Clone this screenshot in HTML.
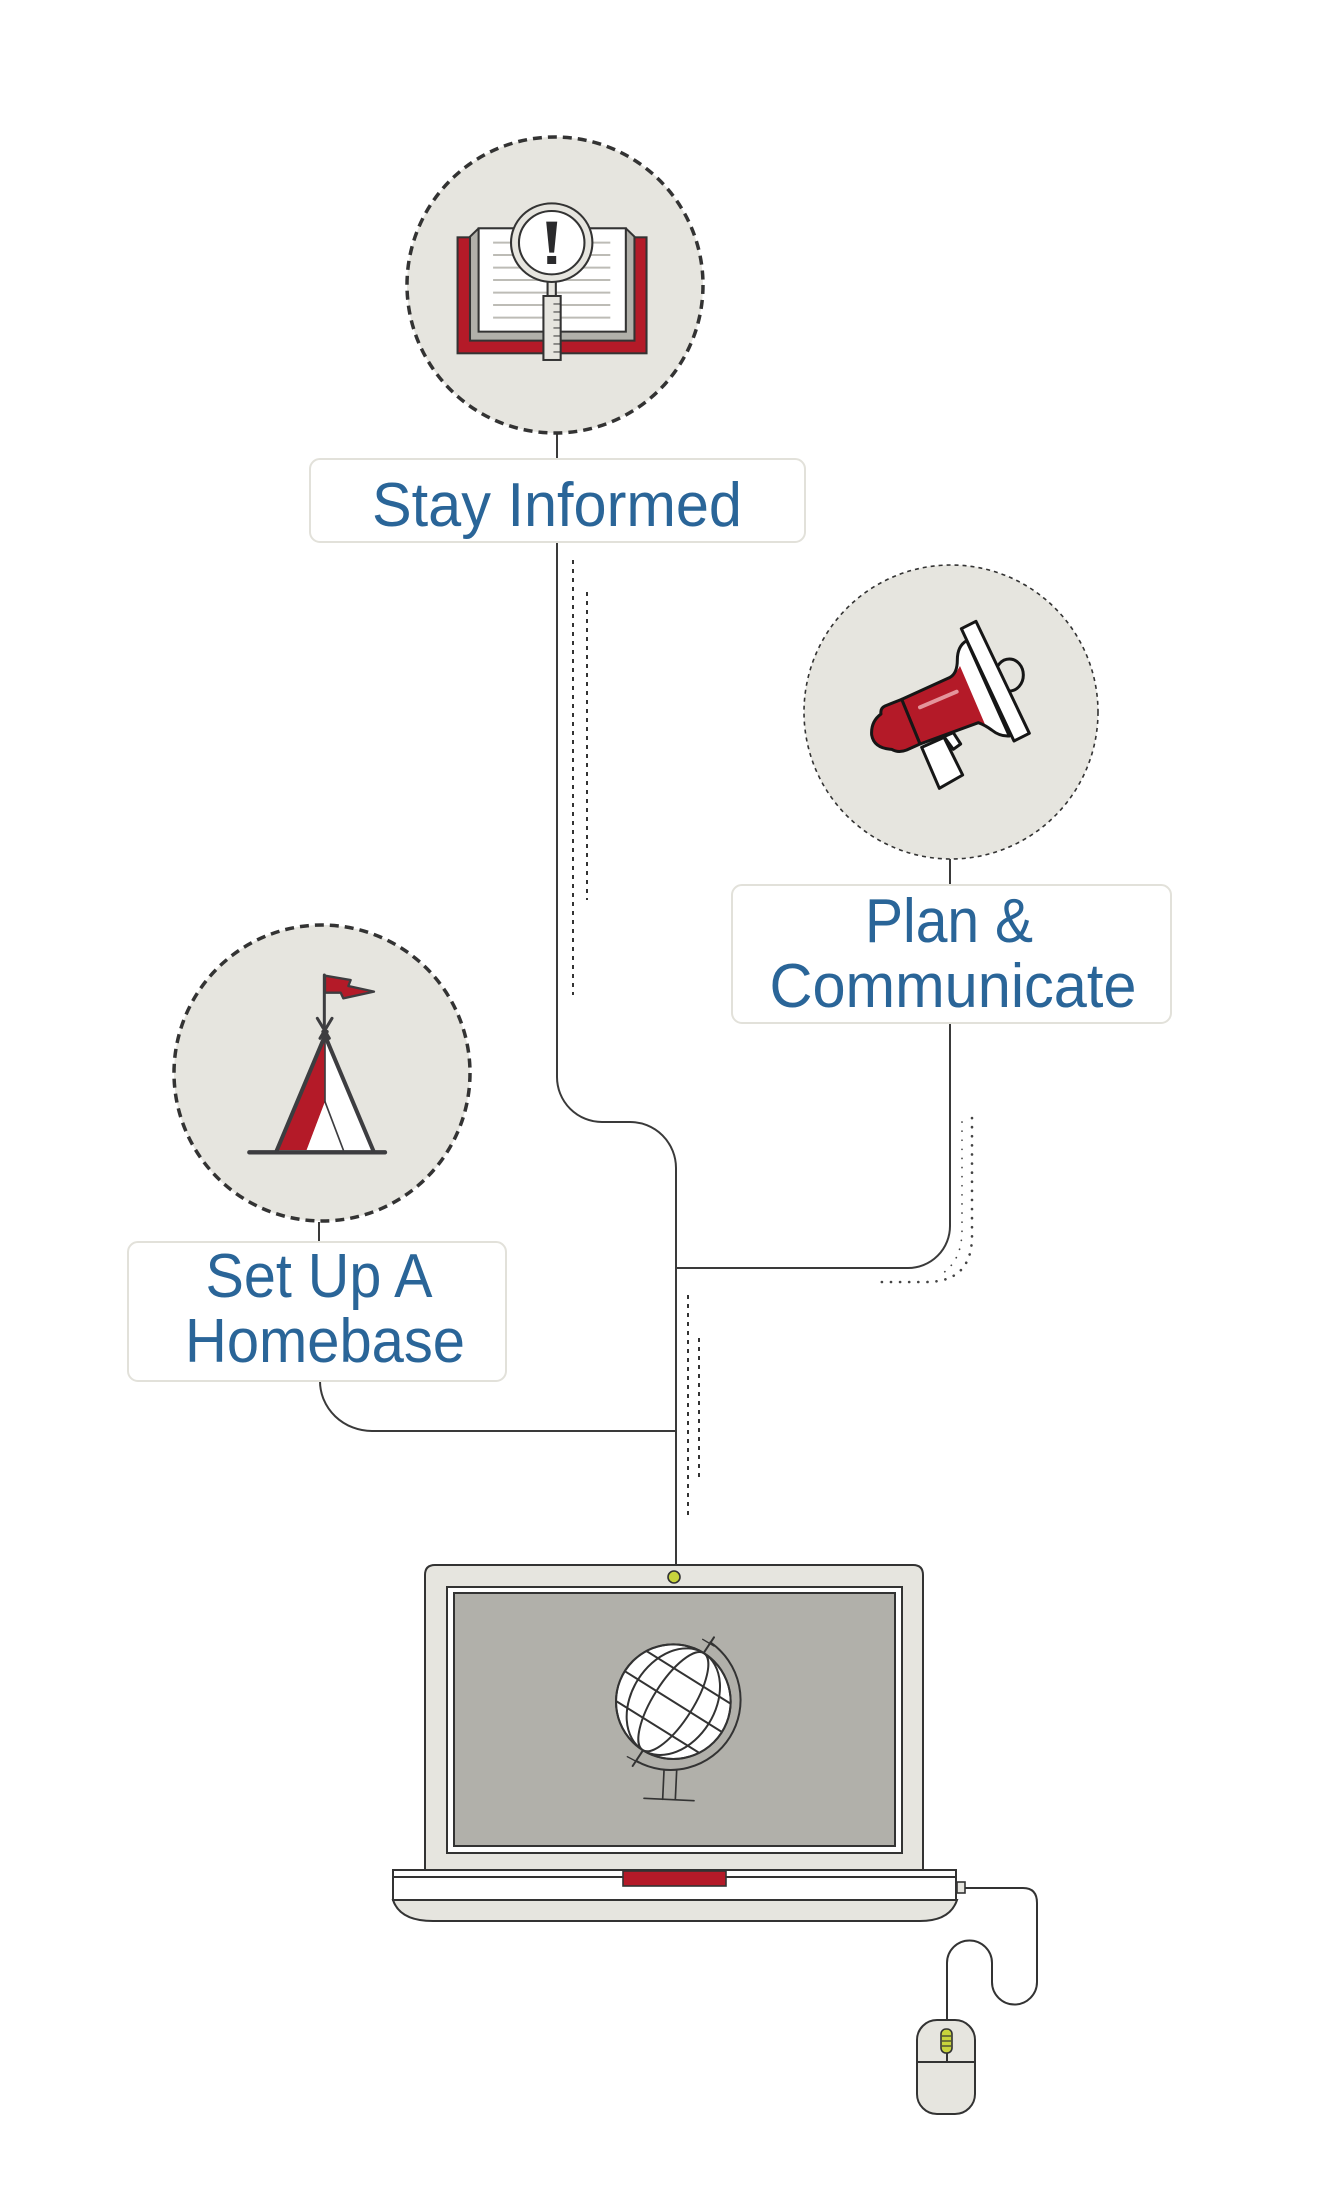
<!DOCTYPE html>
<html>
<head>
<meta charset="utf-8">
<style>
html,body{margin:0;padding:0;background:#fff;}
body{width:1320px;height:2192px;overflow:hidden;}
svg{display:block;}
.lbl{font-family:"Liberation Sans",Arial,sans-serif;font-size:62px;fill:#2a6598;}
</style>
</head>
<body>
<svg width="1320" height="2192" viewBox="0 0 1320 2192" xmlns="http://www.w3.org/2000/svg">
  <defs>
    <clipPath id="globeclip"><circle cx="850" cy="425" r="172"/></clipPath>
  </defs>

  <!-- connectors -->
  <g fill="none" stroke="#3a3a3a" stroke-width="2">
    <path d="M557,433 V459"/>
    <path d="M557,542 V1077 A45,45 0 0 0 602,1122 H630 A46,46 0 0 1 676,1168 V1571"/>
    <path d="M950,859 V885"/>
    <path d="M950,1023 V1226 A42,42 0 0 1 908,1268 H676"/>
    <path d="M319,1222 V1242"/>
    <path d="M320,1381 A52,50 0 0 0 372,1431 H676"/>
  </g>

  <!-- dashed lines -->
  <g stroke="#333" stroke-width="2" stroke-dasharray="4 5" fill="none">
    <path d="M573,560 V995"/>
    <path d="M587,592 V900"/>
    <path d="M688,1295 V1517"/>
    <path d="M699,1338 V1478"/>
  </g>
  <!-- dotted curves -->
  <g stroke="#444" stroke-width="2.6" stroke-dasharray="0.1 9" stroke-linecap="round" fill="none">
    <path d="M972,1118 V1236 Q972,1282 926,1282 H878"/>
    <path d="M962,1122 V1230 Q962,1262 940,1275" stroke-width="1.7"/>
  </g>

  <!-- circles -->
  <circle cx="555" cy="285" r="148" fill="#e6e5df" stroke="#333" stroke-width="3.5" stroke-dasharray="9 6"/>
  <circle cx="951" cy="712" r="147" fill="#e6e5df" stroke="#333" stroke-width="1.6" stroke-dasharray="4 4"/>
  <circle cx="322" cy="1073" r="148" fill="#e6e5df" stroke="#333" stroke-width="3.5" stroke-dasharray="9 6"/>

  <!-- label boxes -->
  <rect x="310" y="459" width="495" height="83" rx="10" fill="#fff" stroke="#e2e1da" stroke-width="2"/>
  <rect x="732" y="885" width="439" height="138" rx="10" fill="#fff" stroke="#e2e1da" stroke-width="2"/>
  <rect x="128" y="1242" width="378" height="139" rx="10" fill="#fff" stroke="#e2e1da" stroke-width="2"/>

  <text class="lbl" x="557" y="526" text-anchor="middle" textLength="370" lengthAdjust="spacingAndGlyphs">Stay Informed</text>
  <text class="lbl" x="949" y="942" text-anchor="middle" textLength="168" lengthAdjust="spacingAndGlyphs">Plan &amp;</text>
  <text class="lbl" x="953" y="1007" text-anchor="middle" textLength="367" lengthAdjust="spacingAndGlyphs">Communicate</text>
  <text class="lbl" x="319" y="1297" text-anchor="middle" textLength="227" lengthAdjust="spacingAndGlyphs">Set Up A</text>
  <text class="lbl" x="325" y="1362" text-anchor="middle" textLength="280" lengthAdjust="spacingAndGlyphs">Homebase</text>

  <!-- book icon -->
  <g transform="translate(300 100) scale(0.3448 0.3333)" stroke="#333" stroke-width="6" stroke-linejoin="miter">
    <rect x="457" y="412" width="548" height="348" fill="#b41a28"/>
    <polygon points="493,410 518,385 945,385 970,410 970,722 493,722" fill="#b1b0aa"/>
    <rect x="518" y="385" width="427" height="310" fill="#fff"/>
    <g stroke="#bdbcb6" stroke-width="6">
      <line x1="560" y1="428" x2="900" y2="428"/>
      <line x1="560" y1="465" x2="900" y2="465"/>
      <line x1="560" y1="503" x2="900" y2="503"/>
      <line x1="560" y1="540" x2="900" y2="540"/>
      <line x1="560" y1="578" x2="900" y2="578"/>
      <line x1="560" y1="615" x2="900" y2="615"/>
      <line x1="560" y1="653" x2="900" y2="653"/>
    </g>
    <rect x="718" y="540" width="24" height="50" fill="#e6e5df"/>
    <rect x="706" y="588" width="50" height="192" fill="#e6e5df"/>
    <g stroke-width="3">
      <line x1="735" y1="612" x2="756" y2="612"/>
      <line x1="735" y1="636" x2="756" y2="636"/>
      <line x1="735" y1="660" x2="756" y2="660"/>
      <line x1="735" y1="684" x2="756" y2="684"/>
      <line x1="735" y1="708" x2="756" y2="708"/>
      <line x1="735" y1="732" x2="756" y2="732"/>
      <line x1="735" y1="756" x2="756" y2="756"/>
    </g>
    <circle cx="730" cy="428" r="118" fill="#e6e5df"/>
    <circle cx="730" cy="428" r="95" fill="#fff"/>
    <polygon points="714,365 746,365 737,458 723,458" fill="#2a2a2c" stroke="none"/>
    <rect x="717" y="468" width="26" height="24" fill="#2a2a2c" stroke="none"/>
  </g>

  <!-- megaphone icon -->
  <g transform="translate(720 540) scale(0.33333)" stroke="#161616" stroke-width="9" stroke-linejoin="round">
    <polygon points="605,622 672,592 728,705 658,745" fill="#fff"/>
    <polygon points="672,590 700,578 722,612 700,628" fill="#fff"/>
    <ellipse cx="868" cy="405" rx="42" ry="48" fill="#e6e5df"/>
    <path d="M545,478 L690,412 Q712,400 712,360 Q712,318 740,302 L868,588 Q840,590 815,570 Q795,555 775,548 L600,612 Z" fill="#fff" stroke="none"/>
    <path d="M545,478 L690,412 Q706,404 720,378 L795,553 Q785,550 775,548 L600,612 Z" fill="#b41a28" stroke="none"/>
    <path d="M545,478 L690,412 Q712,400 712,360 Q712,318 740,302 L868,588 Q840,590 815,570 Q795,555 775,548 L600,612 Z" fill="none"/>
    <polygon points="724,266 768,244 928,580 882,603" fill="#fff"/>
    <path d="M545,478 L495,498 Q480,505 483,522 Q452,545 455,585 Q462,625 515,628 Q535,640 560,630 L600,612 Z" fill="#b41a28"/>
    <line x1="600" y1="502" x2="710" y2="455" stroke="#e4959b" stroke-width="12" stroke-linecap="round"/>
  </g>

  <!-- tent icon -->
  <g transform="translate(110 910) scale(0.33333)" stroke="#3d3d40" stroke-linecap="round" stroke-linejoin="round">
    <line x1="643" y1="195" x2="643" y2="362" stroke-width="9"/>
    <polygon points="645,197 722,210 715,228 792,245 700,265 692,248 645,248" fill="#b41a28" stroke-width="7"/>
    <polygon points="505,720 640,395 645,385 645,575 590,720" fill="#b41a28" stroke="none"/>
    <polygon points="645,385 785,720 590,720 645,575" fill="#fff" stroke="none"/>
    <line x1="645" y1="395" x2="645" y2="575" stroke-width="5"/>
    <line x1="645" y1="575" x2="700" y2="720" stroke-width="5"/>
    <line x1="500" y1="722" x2="650" y2="365" stroke-width="12"/>
    <line x1="640" y1="365" x2="790" y2="722" stroke-width="12"/>
    <line x1="622" y1="325" x2="658" y2="385" stroke-width="9"/>
    <line x1="666" y1="325" x2="630" y2="385" stroke-width="9"/>
    <line x1="418" y1="727" x2="825" y2="727" stroke-width="13"/>
  </g>

  <!-- laptop -->
  <g stroke="#333" stroke-width="2">
    <path d="M425,1870 V1575 Q425,1565 435,1565 H913 Q923,1565 923,1575 V1870 Z" fill="#e6e5df"/>
    <rect x="447" y="1587" width="455" height="266" fill="#fff"/>
    <rect x="454" y="1593" width="441" height="253" fill="#b1b0aa"/>
    <circle cx="674" cy="1577" r="6" fill="#c8d43c" stroke-width="1.6"/>
    <rect x="393" y="1870" width="563" height="7" fill="#fff"/>
    <rect x="393" y="1877" width="563" height="23" fill="#fff"/>
    <path d="M393,1900 Q400,1921 433,1921 H920 Q950,1921 957,1900 Z" fill="#e6e5df"/>
    <rect x="623" y="1871" width="103" height="15" fill="#b41a28" stroke-width="1.6"/>
    <rect x="957" y="1882" width="8" height="11" fill="#e6e5df" stroke-width="1.6"/>
  </g>

  <!-- globe -->
  <g transform="translate(390 1560) scale(0.33333)" stroke="#333" stroke-width="6" fill="none" stroke-linecap="round">
    <circle cx="850" cy="425" r="172" fill="#fff"/>
    <g clip-path="url(#globeclip)">
      <line x1="675" y1="214" x2="1116" y2="490"/>
      <line x1="630" y1="287" x2="1071" y2="563"/>
      <line x1="582" y1="363" x2="1023" y2="638"/>
      <ellipse cx="850" cy="425" rx="172" ry="60" transform="rotate(-57.7 850 425)"/>
      <ellipse cx="850" cy="425" rx="172" ry="125" transform="rotate(-57.7 850 425)"/>
    </g>
    <circle cx="850" cy="425" r="172"/>
    <path d="M961,247 A210,210 0 0 1 739,603"/>
    <line x1="941" y1="279" x2="972" y2="232"/>
    <line x1="759" y1="571" x2="728" y2="618"/>
    <line x1="938" y1="238" x2="972" y2="258" stroke-width="4"/>
    <line x1="712" y1="590" x2="746" y2="608" stroke-width="4"/>
    <line x1="822" y1="632" x2="818" y2="718" stroke-width="5"/>
    <line x1="860" y1="632" x2="856" y2="718" stroke-width="5"/>
    <line x1="762" y1="715" x2="912" y2="722" stroke-width="5"/>
  </g>

  <!-- cable -->
  <path d="M965,1888 H1023 Q1037,1888 1037,1903 V1982 A22.5,22.5 0 0 1 992,1982 V1963 A22.5,22.5 0 0 0 947,1963 V2030" fill="none" stroke="#333" stroke-width="2"/>

  <!-- mouse -->
  <g stroke="#333" stroke-width="2">
    <rect x="917" y="2020" width="58" height="94" rx="20" fill="#e6e5df"/>
    <line x1="917" y1="2062" x2="975" y2="2062"/>
    <line x1="947" y1="2053" x2="947" y2="2062"/>
    <rect x="941" y="2029" width="11" height="24" rx="5" fill="#c8d43c" stroke-width="1.6"/>
    <g stroke-width="1.2">
      <line x1="942" y1="2036" x2="951" y2="2036"/>
      <line x1="942" y1="2041" x2="951" y2="2041"/>
      <line x1="942" y1="2046" x2="951" y2="2046"/>
    </g>
  </g>
</svg>
</body>
</html>
